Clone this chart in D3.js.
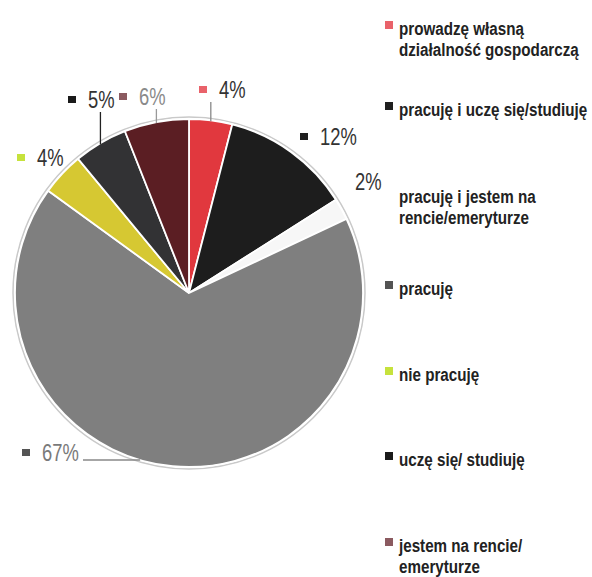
<!DOCTYPE html>
<html>
<head>
<meta charset="utf-8">
<script src="https://cdn.jsdelivr.net/npm/d3@7"></script>
<style>
  body { margin: 0; background: #fff; }
  svg text { font-family: "Liberation Sans Narrow", "Arial Narrow", "Liberation Sans", Arial, sans-serif; }
</style>
</head>
<body>
<div class="chart"></div>
<script>
// data
var categories = [
    "prowadzę własną działalność gospodarczą",
    "pracuję i uczę się/studiuję",
    "pracuję i jestem na rencie/emeryturze",
    "pracuję",
    "nie pracuję",
    "uczę się/ studiuję",
    "jestem na rencie/ emeryturze"
]
var values = [4, 12, 2, 67, 4, 5, 6]
var legendLines = [
    ["prowadzę własną", "działalność gospodarczą"],
    ["pracuję i uczę się/studiuję"],
    ["pracuję i jestem na", "rencie/emeryturze"],
    ["pracuję"],
    ["nie pracuję"],
    ["uczę się/ studiuję"],
    ["jestem na rencie/", "emeryturze"]
]

// styles
var sliceColors = ["#e1383e", "#1d1d1d", "#f7f7f7", "#7f7f7f", "#d6c832", "#323234", "#5b1e23"]
var swatchColors = ["#e9626a", "#1f1f1f", null, "#545454", "#c6e23c", "#1a1a1a", "#8b5a60"]
var labelColors = ["#333", "#333", "#333", "#7a7a7a", "#333", "#333", "#8a8a8a"]
// label layout: [x, y] of label baseline start, leader line kind
var labelPos = [[199, 98], [300, 145], [355, 190], [22, 461], [17, 166], [68, 108], [119, 105]]
var leader = ["up", null, null, "left", null, "up", "up"]
var leaderColor = ["#888", null, null, "#888", null, "#222", "#999"]

var width = 592, height = 577
var cx = 189, cy = 293, r = 174
var condense = 0.8, legendCondense = 0.8

var svg = d3.select(".chart")
    .append("svg")
    .attr("width", width)
    .attr("height", height)

// narrow text, the narrow font is not installed so squeeze horizontally
function narrowText(parent, x, y, sx, str) {
    return parent.append("text")
        .attr("transform", "translate(" + x + "," + y + ") scale(" + sx + ",1)")
        .text(str)
}

var pie = d3.pie().sort(null).value(function (d) { return d })
var arcs = pie(values)
var arc = d3.arc().innerRadius(0).outerRadius(r)

var g = svg.append("g").attr("transform", "translate(" + cx + "," + cy + ")")

// faint outer rim
g.append("circle")
    .attr("r", r + 2)
    .attr("fill", "none")
    .attr("stroke", "#c9c9c9")
    .attr("stroke-width", 1.5)

g.selectAll("path.slice")
    .data(arcs)
    .enter()
    .append("path")
    .classed("slice", true)
    .attr("d", arc)
    .attr("fill", function (d, i) { return sliceColors[i] })
    .attr("stroke", "#fff")
    .attr("stroke-width", 1.8)

// leader lines
arcs.forEach(function (d, i) {
    if (!leader[i]) return
    var mid = (d.startAngle + d.endAngle) / 2
    var x = cx + r * Math.sin(mid)
    var y = cy - r * Math.cos(mid)
    if (leader[i] == "up") {
        svg.append("line")
            .attr("x1", x).attr("y1", y + 1)
            .attr("x2", x).attr("y2", labelPos[i][1] + 4)
            .attr("stroke", leaderColor[i])
            .attr("stroke-width", 1.3)
    } else {
        // horizontal line just under the label meeting the pie edge
        var ly = labelPos[i][1] - 1
        var ex = cx - Math.sqrt(r * r - (ly - cy) * (ly - cy))
        svg.append("line")
            .attr("x1", labelPos[i][0] + 61).attr("y1", ly)
            .attr("x2", ex).attr("y2", ly)
            .attr("stroke", leaderColor[i])
            .attr("stroke-width", 1.3)
    }
})

// slice labels
var labels = svg.append("g").classed("labels", true)
arcs.forEach(function (d, i) {
    var p = labelPos[i]
    var tx = p[0]
    if (swatchColors[i]) {
        labels.append("rect")
            .attr("x", p[0]).attr("y", p[1] - 12)
            .attr("width", 8).attr("height", 7)
            .attr("fill", swatchColors[i])
        tx = p[0] + 20
    }
    narrowText(labels, tx, p[1], condense, values[i] + "%")
        .attr("font-size", 23)
        .attr("fill", labelColors[i])
})

// legend
var legendY = [35, 116, 203, 295, 381, 466, 552]
var legend = svg.append("g").classed("legend", true)
categories.forEach(function (c, i) {
    if (swatchColors[i]) {
        legend.append("rect")
            .attr("x", 385).attr("y", legendY[i] - 14)
            .attr("width", 8).attr("height", 8)
            .attr("fill", swatchColors[i])
    }
    legendLines[i].forEach(function (line, j) {
        narrowText(legend, 399, legendY[i] + j * 21, legendCondense, line)
            .attr("font-size", 19)
            .attr("font-weight", "bold")
            .attr("fill", "#222")
    })
})
</script>
</body>
</html>
